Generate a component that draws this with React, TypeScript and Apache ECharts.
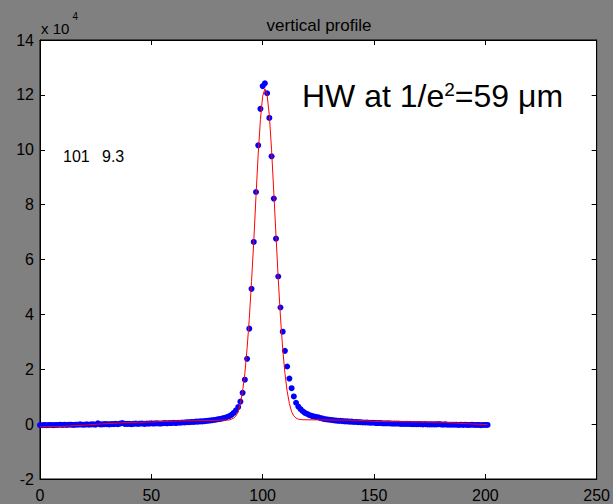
import React, { useEffect, useRef } from "react";
import * as echarts from "echarts";

// Measured profile (blue dots), one value per pixel position x = 0..201, in units of 10^4
const PROFILE_VALUES = [
  -0.04, -0.04, -0.03, -0.04, -0.03, -0.03, -0.04, -0.03, -0.03, -0.02,
  -0.03, -0.02, -0.03, -0.02, -0.02, -0.03, -0.02, -0.02, -0.01, -0.02,
  -0.02, -0.01, -0.02, -0.01, -0.01, -0.02, 0.03, -0.01, -0.01, 0.0,
  0.0, -0.01, 0.0, 0.0, 0.01, 0.0, 0.02, 0.04, 0.01, 0.01,
  0.01, 0.0, 0.01, 0.02, 0.01, 0.02, 0.02, 0.01, 0.02, 0.02,
  0.03, 0.02, 0.03, 0.03, 0.02, 0.03, 0.04, 0.03, 0.04, 0.04,
  0.05, 0.04, 0.05, 0.05, 0.06, 0.06, 0.07, 0.07, 0.08, 0.08,
  0.09, 0.09, 0.1, 0.1, 0.11, 0.12, 0.13, 0.14, 0.15, 0.16,
  0.18, 0.19, 0.21, 0.23, 0.26, 0.29, 0.34, 0.41, 0.5,
  0.62, 0.82, 1.14, 1.62, 2.38, 3.48, 4.93,
  6.64, 8.46, 10.16, 11.49, 12.32, 12.42, 12.06, 11.16, 9.76, 8.22,
  6.76, 5.38, 4.25, 3.37, 2.67, 2.1, 1.66, 1.31, 1.01, 0.78,
  0.64, 0.55, 0.47, 0.41, 0.37, 0.33, 0.3, 0.28, 0.26, 0.25,
  0.22, 0.2, 0.18, 0.17, 0.16, 0.15, 0.14, 0.13, 0.12, 0.12,
  0.11, 0.1, 0.1, 0.09, 0.09, 0.08, 0.08, 0.07, 0.07, 0.06,
  0.06, 0.06, 0.05, 0.05, 0.05, 0.04, 0.04, 0.04, 0.03, 0.03,
  0.03, 0.03, 0.02, 0.02, 0.02, 0.02, 0.01, 0.01, 0.01, 0.01,
  0.01, 0.0, 0.0, 0.0, 0.0, 0.0, -0.01, 0.0, -0.01, -0.01,
  -0.01, -0.01, -0.01, 0.0, -0.01, -0.02, -0.01, -0.02, -0.02, -0.02,
  -0.02, -0.02, -0.03, -0.02, -0.03, -0.02, -0.03, -0.03, -0.02, -0.03,
  -0.03, -0.03, -0.04, -0.03, -0.03, -0.03,
];

// Gaussian fit (red line), in units of 10^4
const FIT_X = [
  0, 10, 20, 26, 40, 50, 64, 75, 85,
  86, 87, 88, 89, 90, 91, 92, 93, 94, 95, 96, 97, 98, 99, 100,
  101, 102, 103, 104, 105, 106, 107, 108, 109, 110, 111, 112, 113, 114, 115, 116,
  118, 130, 143, 150, 170, 182, 190, 201,
];
const FIT_Y = [
  -0.1, -0.08, -0.04, 0.0, 0.06, 0.08, 0.12, 0.13, 0.15,
  0.18, 0.22, 0.3, 0.45, 0.75, 1.2, 1.85, 2.75, 3.85, 5.2, 6.65, 8.3, 9.85, 11.1, 11.95,
  12.22, 12.0, 11.25, 10.0, 8.45, 6.85, 5.3, 3.9, 2.75, 1.85, 1.2, 0.75, 0.45, 0.3, 0.22, 0.18,
  0.16, 0.15, 0.14, 0.1, 0.08, 0.07, 0.02, -0.02,
];

const X_MIN = 0;
const X_MAX = 250;
const X_STEP = 50;
const Y_MIN = -2;
const Y_MAX = 14;
const Y_STEP = 2;

const TITLE = "vertical profile";
const PEAK_TEXT = "101";
const WIDTH_TEXT = "9.3";

const FONT = "'Liberation Sans', Arial, Helvetica, sans-serif";

export default function App() {
  const ref = useRef<HTMLDivElement>(null);

  useEffect(() => {
    if (!ref.current) return;
    const chart = echarts.init(ref.current, null, { renderer: "svg" });

    const dots = PROFILE_VALUES.map((v, i) => [i, v]);
    const fit = FIT_X.map((x, i) => [x, FIT_Y[i]]);

    const axisLine = { show: true, onZero: false, lineStyle: { color: "#000", width: 1 } };
    const tick = { show: true, inside: true, length: 5, lineStyle: { color: "#000", width: 1 } };
    const label = { color: "#000", fontSize: 16, fontFamily: FONT };

    chart.setOption({
      animation: false,
      backgroundColor: "#808080",
      grid: {
        left: 40,
        right: 16,
        top: 40,
        bottom: 25,
        show: true,
        backgroundColor: "#ffffff",
        borderColor: "#000",
        borderWidth: 1,
      },
      xAxis: [
        {
          type: "value",
          min: X_MIN,
          max: X_MAX,
          interval: X_STEP,
          position: "bottom",
          axisLine,
          axisTick: tick,
          splitLine: { show: false },
          axisLabel: { ...label, margin: 8 },
        },
        {
          type: "value",
          min: X_MIN,
          max: X_MAX,
          interval: X_STEP,
          position: "top",
          axisLine,
          axisTick: tick,
          splitLine: { show: false },
          axisLabel: { show: false },
        },
      ],
      yAxis: [
        {
          type: "value",
          min: Y_MIN,
          max: Y_MAX,
          interval: Y_STEP,
          position: "left",
          axisLine,
          axisTick: tick,
          splitLine: { show: false },
          axisLabel: { ...label, margin: 6 },
        },
        {
          type: "value",
          min: Y_MIN,
          max: Y_MAX,
          interval: Y_STEP,
          position: "right",
          axisLine,
          axisTick: tick,
          splitLine: { show: false },
          axisLabel: { show: false },
        },
      ],
      series: [
        {
          type: "scatter",
          data: dots,
          symbol: "circle",
          symbolSize: 6,
          itemStyle: { color: "#0000ff", opacity: 1 },
          z: 2,
        },
        {
          type: "line",
          data: fit,
          showSymbol: false,
          symbol: "none",
          lineStyle: { color: "#ff0000", width: 1 },
          z: 3,
        },
      ],
      graphic: [
        {
          type: "text",
          x: 319,
          y: 25,
          z: 100,
          style: {
            text: TITLE,
            textAlign: "center",
            textVerticalAlign: "middle",
            fontSize: 17,
            fontFamily: FONT,
            fill: "#000",
          },
        },
        {
          type: "text",
          x: 41,
          y: 28,
          z: 100,
          style: {
            text: "x 10",
            textAlign: "left",
            textVerticalAlign: "middle",
            fontSize: 15,
            fontFamily: FONT,
            fill: "#000",
          },
        },
        {
          type: "text",
          x: 72.5,
          y: 16.5,
          z: 100,
          style: {
            text: "4",
            textAlign: "left",
            textVerticalAlign: "middle",
            fontSize: 10,
            fontFamily: FONT,
            fill: "#000",
          },
        },
        {
          type: "text",
          x: 63,
          y: 156,
          z: 100,
          style: {
            text: PEAK_TEXT,
            textAlign: "left",
            textVerticalAlign: "middle",
            fontSize: 16,
            fontFamily: FONT,
            fill: "#000",
          },
        },
        {
          type: "text",
          x: 102,
          y: 156,
          z: 100,
          style: {
            text: WIDTH_TEXT,
            textAlign: "left",
            textVerticalAlign: "middle",
            fontSize: 16,
            fontFamily: FONT,
            fill: "#000",
          },
        },
        {
          type: "text",
          x: 302,
          y: 96,
          z: 100,
          style: {
            text: "{n|HW at 1/e}{s|2}{n|=59 μm}",
            textAlign: "left",
            textVerticalAlign: "middle",
            fill: "#000",
            rich: {
              n: { fontSize: 32, fontFamily: FONT, fill: "#000" },
              s: { fontSize: 19, fontFamily: FONT, fill: "#000", verticalAlign: "top" },
            },
          },
        },
      ],
    });

    return () => chart.dispose();
  }, []);

  return (
    <div
      ref={ref}
      style={{ position: "fixed", left: 0, top: 0, width: 613, height: 504 }}
    />
  );
}
